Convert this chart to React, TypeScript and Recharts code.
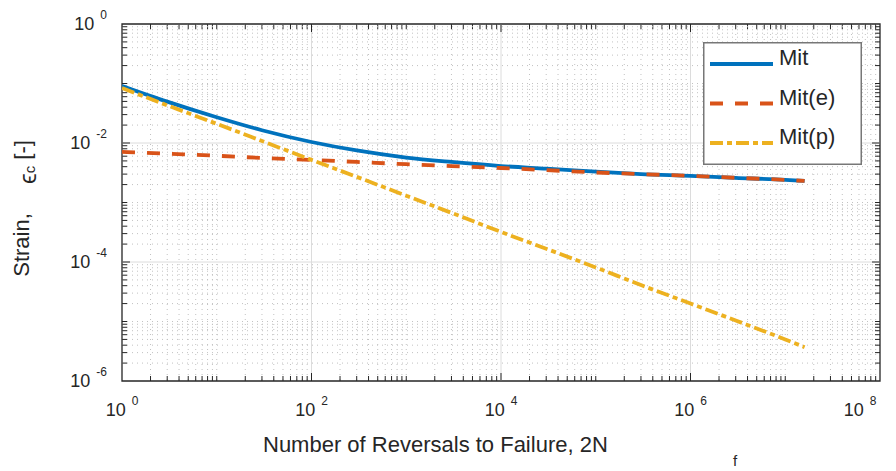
import { LineChart, Line, XAxis, YAxis, ReferenceLine, ReferenceArea, Legend } from "recharts";

// reversals to failure, 2Nf
const CYCLES = [1, 3, 10, 30, 100, 300, 1e3, 3e3, 1e4, 3e4, 1e5, 3e5, 1e6, 3e6, 1e7, 1.6e7];
// strain amplitudes
const STRAIN_TOTAL = [0.0911, 0.0496, 0.0271, 0.0164, 0.0104, 0.0075, 0.0057, 0.0048, 0.0041, 0.0037, 0.0033, 0.003, 0.0028, 0.0026, 0.0024, 0.0023];
const STRAIN_ELASTIC = [0.0071, 0.0066, 0.0061, 0.0056, 0.0052, 0.0048, 0.0044, 0.0041, 0.0038, 0.0035, 0.0032, 0.003, 0.0028, 0.0026, 0.0024, 0.0023];
const STRAIN_PLASTIC = [0.084, 0.043, 0.021, 0.0108, 0.0052, 0.0027, 0.0013, 0.00067, 0.00032, 0.000167, 0.000081, 0.000041, 0.00002, 0.0000104, 0.000005, 0.0000037];

const X_TICKS = [1, 1e2, 1e4, 1e6, 1e8];
const Y_TICKS = [1e-6, 1e-4, 1e-2, 1];
const X_DECADES = [1, 1e1, 1e2, 1e3, 1e4, 1e5, 1e6, 1e7];
const Y_DECADES = [1e-6, 1e-5, 1e-4, 1e-3, 1e-2, 1e-1];
const MINOR_STEPS = [2, 3, 4, 5, 6, 7, 8, 9];

const SERIES = [
  { key: "total", name: "Mit", color: "#0072BD", dash: undefined as string | undefined },
  { key: "elastic", name: "Mit(e)", color: "#D95319", dash: "13 12" },
  { key: "plastic", name: "Mit(p)", color: "#EDB120", dash: "13 4 5 4" },
];

const W = 896;
const H = 471;
const PLOT_LEFT = 122;
const PLOT_TOP = 24;
const PLOT_RIGHT = 880;
const PLOT_BOTTOM = 381;

const FONT = '"Liberation Sans", Arial, Helvetica, sans-serif';
const INK = "#262626";
const MAJOR_GRID = "#dcdcdc";
const MINOR_GRID = "#c2c2c2";

const data = CYCLES.map((n, i) => ({
  n,
  total: STRAIN_TOTAL[i],
  elastic: STRAIN_ELASTIC[i],
  plastic: STRAIN_PLASTIC[i],
}));

function gridValues(decades: number[], ticks: number[], first: number) {
  const out: { v: number; major: boolean }[] = [];
  decades.forEach((d) => {
    if (d !== first) out.push({ v: d, major: ticks.includes(d) });
    MINOR_STEPS.forEach((m) => out.push({ v: d * m, major: false }));
  });
  return out;
}

const X_GRID = gridValues(X_DECADES, X_TICKS, 1);
const Y_GRID = gridValues(Y_DECADES, Y_TICKS, 1e-6);

function xGridShape(major: boolean) {
  return (p: any) => {
    const x = p.x1;
    const top = Math.min(p.y1, p.y2);
    const bottom = Math.max(p.y1, p.y2);
    const len = major ? 8 : 5;
    return (
      <g>
        <line x1={x} x2={x} y1={top} y2={bottom} stroke={major ? MAJOR_GRID : MINOR_GRID} strokeWidth={1} strokeDasharray={major ? undefined : "1 4"} />
        <line x1={x} x2={x} y1={bottom} y2={bottom - len} stroke={INK} strokeWidth={1} />
        <line x1={x} x2={x} y1={top} y2={top + len} stroke={INK} strokeWidth={1} />
      </g>
    );
  };
}

function yGridShape(major: boolean) {
  return (p: any) => {
    const y = p.y1;
    const left = Math.min(p.x1, p.x2);
    const right = Math.max(p.x1, p.x2);
    const len = major ? 8 : 5;
    return (
      <g>
        <line x1={left} x2={right} y1={y} y2={y} stroke={major ? MAJOR_GRID : MINOR_GRID} strokeWidth={1} strokeDasharray={major ? undefined : "1 4"} />
        <line x1={left} x2={left + len} y1={y} y2={y} stroke={INK} strokeWidth={1} />
        <line x1={right} x2={right - len} y1={y} y2={y} stroke={INK} strokeWidth={1} />
      </g>
    );
  };
}

function XPowerTick(props: any) {
  const exp = Math.round(Math.log10(props.payload.value));
  return (
    <text x={props.x} y={PLOT_BOTTOM + 35} textAnchor="middle" fill={INK} fontSize={18} fontFamily={FONT}>
      <tspan>10</tspan>
      <tspan dx={6} dy={-11} fontSize={12}>{exp}</tspan>
    </text>
  );
}

function YPowerTick(props: any) {
  const exp = Math.round(Math.log10(props.payload.value));
  return (
    <text x={PLOT_LEFT - 15} y={props.y + 6} textAnchor="end" fill={INK} fontSize={18} fontFamily={FONT}>
      <tspan>10</tspan>
      <tspan dx={6} dy={-11} fontSize={12}>{exp}</tspan>
    </text>
  );
}

function XTitle() {
  return (
    <g fontFamily={FONT} fill={INK}>
      <text x={263} y={452} fontSize={22}>Number of Reversals to Failure, 2N</text>
      <text x={733} y={466} fontSize={15}>f</text>
    </g>
  );
}

function YTitle() {
  return (
    <g fontFamily={FONT} fill={INK}>
      <text transform="translate(29,245) rotate(-90)" textAnchor="middle" fontSize={22}>Strain,</text>
      <text transform="translate(30,162) rotate(-90)" textAnchor="middle" fontSize={22}>
        <tspan dy={6} fontSize={24}>ϵ</tspan>
        <tspan dy={-1} fontSize={15}>c</tspan>
        <tspan dy={-5}> [-]</tspan>
      </text>
    </g>
  );
}

function LegendBox() {
  return (
    <svg width={159} height={123} style={{ display: "block" }}>
      <rect x={0.75} y={0.75} width={157.5} height={121.5} fill="#fff" stroke="#777" strokeWidth={1.5} />
      {SERIES.map((s, i) => {
        const cy = 22 + i * 39.5;
        return (
          <g key={s.key}>
            <line x1={7} x2={70} y1={cy} y2={cy} stroke={s.color} strokeWidth={3.8} strokeDasharray={s.dash} />
            <text x={76} y={cy + 1} fontSize={22} fill={INK} fontFamily={FONT}>
              {s.name}
            </text>
          </g>
        );
      })}
    </svg>
  );
}

export default function App() {
  return (
    <div style={{ position: "absolute", left: 0, top: 0, width: W, height: H, background: "#fff", fontFamily: FONT }}>
      <LineChart
        width={W}
        height={H}
        data={data}
        margin={{ top: PLOT_TOP, right: W - PLOT_RIGHT, bottom: 0, left: 0 }}
      >
        <XAxis
          dataKey="n"
          type="number"
          scale="log"
          domain={[1, 1e8]}
          ticks={X_TICKS}
          allowDataOverflow
          height={H - PLOT_BOTTOM}
          axisLine={false}
          tickLine={false}
          tick={<XPowerTick />}
          label={<XTitle />}
        />
        <YAxis
          type="number"
          scale="log"
          domain={[1e-6, 1]}
          ticks={Y_TICKS}
          allowDataOverflow
          width={PLOT_LEFT}
          axisLine={false}
          tickLine={false}
          tick={<YPowerTick />}
          label={<YTitle />}
        />
        {X_GRID.map((g) => (
          <ReferenceLine key={"x" + g.v} x={g.v} shape={xGridShape(g.major)} />
        ))}
        {Y_GRID.map((g) => (
          <ReferenceLine key={"y" + g.v} y={g.v} shape={yGridShape(g.major)} />
        ))}
        {SERIES.map((s) => (
          <Line
            key={s.key}
            dataKey={s.key}
            name={s.name}
            type="monotone"
            stroke={s.color}
            strokeWidth={3.8}
            strokeDasharray={s.dash}
            dot={false}
            activeDot={false}
            isAnimationActive={false}
          />
        ))}
        <ReferenceArea x1={1} x2={1e8} y1={1e-6} y2={1} fill="none" fillOpacity={0} stroke={INK} strokeWidth={1.3} />
        <Legend
          layout="horizontal"
          align="center"
          verticalAlign="middle"
          content={() => <LegendBox />}
          wrapperStyle={{ position: "absolute", left: 703, top: 42, width: 159, height: 123 }}
        />
      </LineChart>
    </div>
  );
}
